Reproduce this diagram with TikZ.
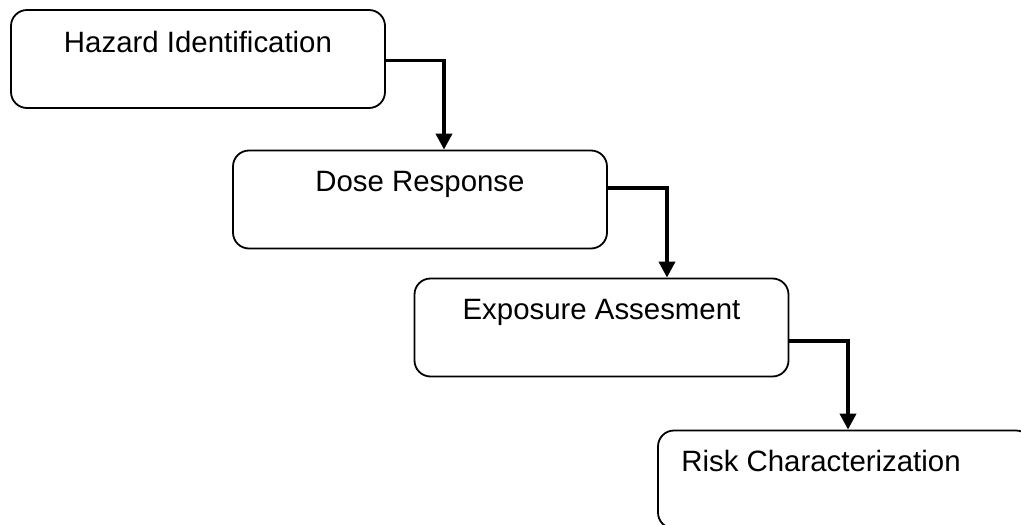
\documentclass[tikz,border=0pt]{standalone}
\usepackage{fontspec}
\setmainfont{Liberation Sans}
\usetikzlibrary{arrows.meta,calc}
\begin{document}
\begin{tikzpicture}[x=1pt,y=-1pt,
  stagebox/.style={draw=black,line width=1.8pt,rounded corners=16pt,
    minimum width=374pt,minimum height=98pt,inner sep=0pt},
  lbl/.style={font=\fontsize{29.4}{35}\selectfont,inner sep=0pt,anchor=base},
  conn/.style={line width=3.8pt,-{Triangle[width=16pt,length=16pt]}}]
  \useasboundingbox (0,0) rectangle (1021,525);
  \fill[white] (0,0) rectangle (1021,525);
  \clip (0,0) rectangle (1021,525);

  % process stages
  \node[stagebox] (haz) at (198,59) {};
  \node[stagebox] (dose) at (420,199.5) {};
  \node[stagebox] (expo) at (601.5,327.5) {};
  \node[stagebox] (risk) at (845,479.5) {};

  % stage titles
  \node[lbl] (hazt) at ([yshift=-43pt]haz.north) {Hazard Identification};
  \node[lbl] (doset) at ([yshift=-42pt]dose.north) {Dose Response};
  \node[lbl] (expot) at ([yshift=-42pt]expo.north) {Exposure Assesment};
  \node[lbl,anchor=base west] (riskt) at ([xshift=24pt,yshift=-42pt]risk.north west) {Risk Characterization};

  % step connectors
  \draw[conn] ([yshift=-1.5pt]haz.east) -| ([xshift=24pt]dose.north);
  \draw[conn] ([yshift=11.5pt]dose.east) -| ([xshift=65.5pt]expo.north);
  \draw[conn] ([yshift=-13.5pt]expo.east) -| ([xshift=3pt]risk.north);
\end{tikzpicture}
\end{document}
